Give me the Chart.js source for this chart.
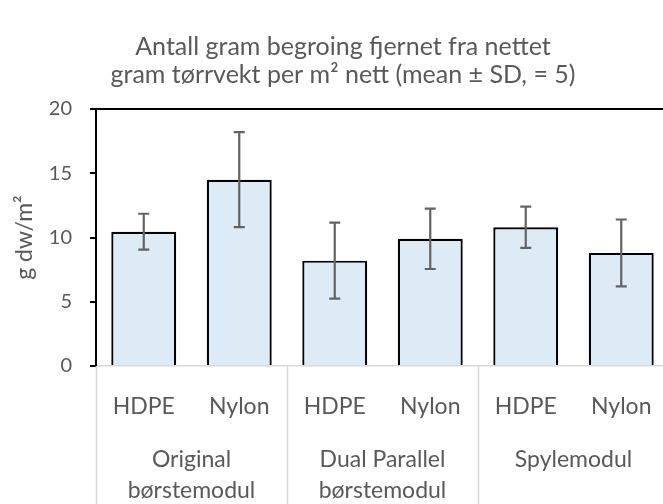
<!DOCTYPE html>
<html>
<head>
<meta charset="utf-8">
<title>Begroing fjernet fra nettet</title>
<script src="https://cdn.jsdelivr.net/npm/chart.js@4.4.1/dist/chart.umd.min.js"></script>
<style>
  html, body { margin: 0; padding: 0; background: #fff; }
  /* plot runs slightly past the right edge, so the canvas is a bit wider than the frame */
  #wrap { width: 663px; height: 504px; overflow: hidden; }
</style>
</head>
<body>
<div id="wrap"><canvas id="chart" width="672" height="504"></canvas></div>
<script>
// data
const materials = ['HDPE', 'Nylon', 'HDPE', 'Nylon', 'HDPE', 'Nylon'];
const modules = [['Original', 'børstemodul'], ['Dual Parallel', 'børstemodul'], ['Spylemodul']];
const meanValues = [10.45, 14.5, 8.2, 9.9, 10.8, 8.8];
const sdValues = [1.4, 3.7, 2.95, 2.35, 1.6, 2.6];
const yTicks = [0, 5, 10, 15, 20];
const titleLines = ['Antall gram begroing fjernet fra nettet', 'gram tørrvekt per m² nett (mean ± SD, = 5)'];
const yTitle = 'g dw/m²';

const FONT = 'Lato, "Open Sans", sans-serif';
const TEXT = '#595959';

// mean ± SD whiskers on top of each bar
const errorBars = {
  id: 'errorBars',
  afterDatasetsDraw(chart) {
    const { ctx } = chart;
    const y = chart.scales.y;
    const meta = chart.getDatasetMeta(0);
    ctx.save();
    ctx.strokeStyle = '#636363';
    ctx.lineWidth = 2.2;
    meta.data.forEach((bar, i) => {
      const hi = y.getPixelForValue(meanValues[i] + sdValues[i]);
      const lo = y.getPixelForValue(meanValues[i] - sdValues[i]);
      const cap = 5.5;
      ctx.beginPath();
      ctx.moveTo(bar.x, hi); ctx.lineTo(bar.x, lo);
      ctx.moveTo(bar.x - cap, hi); ctx.lineTo(bar.x + cap, hi);
      ctx.moveTo(bar.x - cap, lo); ctx.lineTo(bar.x + cap, lo);
      ctx.stroke();
    });
    ctx.restore();
  }
};

// light vertical dividers between the module groups, below the plot
const groupDividers = {
  id: 'groupDividers',
  afterDraw(chart) {
    const { ctx, chartArea } = chart;
    const x = chart.scales.x;
    ctx.save();
    ctx.strokeStyle = '#d9d9d9';
    ctx.lineWidth = 1.5;
    let start = 0;
    const edges = [-0.5];
    modules.forEach(() => { start += 2; edges.push(start - 0.5); });
    edges.forEach(v => {
      const px = Math.round(x.getPixelForValue(v)) + 0.5;
      ctx.beginPath();
      ctx.moveTo(px, chartArea.bottom);
      ctx.lineTo(px, chart.height);
      ctx.stroke();
    });
    ctx.restore();
  }
};

new Chart(document.getElementById('chart'), {
  type: 'bar',
  data: {
    labels: materials,
    datasets: [{
      data: meanValues,
      backgroundColor: '#ddebf7',
      borderColor: '#000000',
      borderWidth: 2.2,
      barPercentage: 0.68,
      categoryPercentage: 1
    }]
  },
  options: {
    responsive: false,
    animation: false,
    layout: { padding: { left: 17, right: 3, top: 0, bottom: 0 } },
    plugins: {
      legend: { display: false },
      tooltip: { enabled: false },
      title: {
        display: true,
        text: titleLines,
        color: TEXT,
        font: { family: FONT, size: 25, weight: 400, lineHeight: 1.12 },
        padding: { top: 33, bottom: 20 }
      }
    },
    scales: {
      x: {
        position: 'bottom',
        offset: true,
        z: 1,
        grid: { display: false },
        border: { color: '#d9d9d9', width: 1.5 },
        ticks: {
          color: TEXT,
          autoSkip: false,
          maxRotation: 0,
          padding: 17,
          font: { family: FONT, size: 23, weight: 400, lineHeight: 1.35 }
        },
        afterFit(scale) { scale.height = 68; }
      },
      x2: {
        type: 'category',
        position: 'bottom',
        labels: modules,
        offset: true,
        grid: { display: false },
        border: { display: false },
        ticks: {
          color: TEXT,
          autoSkip: false,
          maxRotation: 0,
          padding: 2,
          font: { family: FONT, size: 23, weight: 400, lineHeight: 1.35 }
        },
        afterFit(scale) { scale.height = 70; }
      },
      y: {
        min: yTicks[0],
        max: yTicks[yTicks.length - 1],
        afterBuildTicks(scale) { scale.ticks = yTicks.map(v => ({ value: v })); },
        grid: {
          color: ctx => (ctx.tick && ctx.tick.value === yTicks[yTicks.length - 1]) ? '#000000' : 'rgba(0,0,0,0)',
          lineWidth: 2,
          tickColor: '#000000',
          tickLength: 6,
          tickWidth: 2
        },
        border: { color: '#000000', width: 2 },
        ticks: {
          color: TEXT,
          padding: 18,
          font: { family: FONT, size: 20, weight: 400 }
        },
        title: {
          display: true,
          text: yTitle,
          color: TEXT,
          padding: { top: -6, bottom: 0 },
          font: { family: FONT, size: 23, weight: 400 }
        },
        afterFit(scale) { scale.width = 79; }
      }
    }
  },
  plugins: [errorBars, groupDividers]
});
</script>
</body>
</html>
